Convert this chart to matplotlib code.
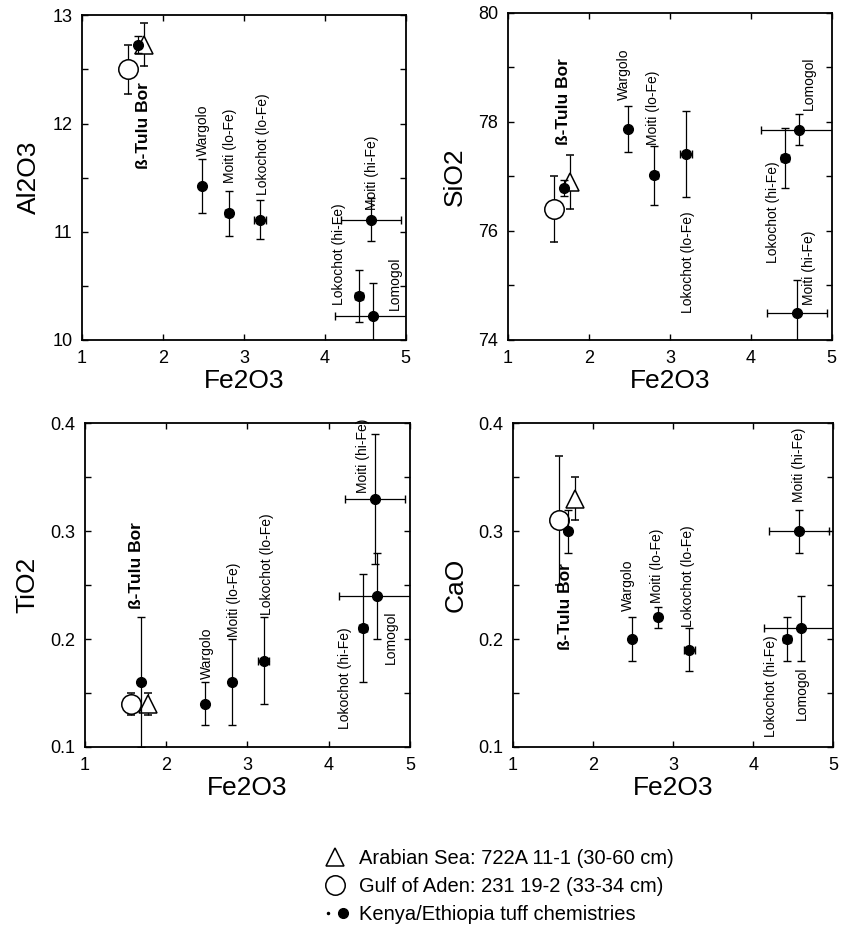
import matplotlib
matplotlib.use("Agg")
import matplotlib.pyplot as plt
from matplotlib.lines import Line2D
from matplotlib.legend_handler import HandlerTuple
from matplotlib.ticker import MultipleLocator

plt.rcParams['font.family'] = ['Liberation Sans', 'DejaVu Sans']

# Kenya/Ethiopia tuffs (Fe2O3 shared across panels)
tuffs = ["Tulu Bor", "Wargolo", "Moiti (lo-Fe)", "Lokochot (lo-Fe)",
         "Lokochot (hi-Fe)", "Moiti (hi-Fe)", "Lomogol"]
tuff_fe = [1.69, 2.48, 2.81, 3.20, 4.42, 4.57, 4.60]
tuff_fe_err = [0.03, 0.0, 0.04, 0.07, 0.05, 0.37, 0.47]

# marine samples
arabian_fe = 1.77
aden_fe = 1.57

# oxide values per panel: tuffs, errors, Arabian Sea, Gulf of Aden
al_tuff = [12.73, 11.42, 11.17, 11.11, 10.41, 11.11, 10.22]
al_err = [0.08, 0.25, 0.21, 0.18, 0.24, 0.20, 0.31]
al_arab, al_arab_err = 12.73, 0.20
al_aden, al_aden_err = 12.50, 0.23

si_tuff = [76.79, 77.87, 77.02, 77.41, 77.34, 74.50, 77.86]
si_err = [0.15, 0.42, 0.54, 0.79, 0.55, 0.60, 0.28]
si_arab, si_arab_err = 76.90, 0.50
si_aden, si_aden_err = 76.40, 0.60

ti_tuff = [0.16, 0.14, 0.16, 0.18, 0.21, 0.33, 0.24]
ti_err = [0.06, 0.02, 0.04, 0.04, 0.05, 0.06, 0.04]
ti_arab, ti_arab_err = 0.14, 0.01
ti_aden, ti_aden_err = 0.14, 0.01

ca_tuff = [0.30, 0.20, 0.22, 0.19, 0.20, 0.30, 0.21]
ca_err = [0.02, 0.02, 0.01, 0.02, 0.02, 0.02, 0.03]
ca_arab, ca_arab_err = 0.33, 0.02
ca_aden, ca_aden_err = 0.31, 0.06

label_text = ["ß-Tulu Bor", "Wargolo", "Moiti (lo-Fe)", "Lokochot (lo-Fe)",
              "Lokochot (hi-Fe)", "Moiti (hi-Fe)", "Lomogol"]

# label anchor positions (x, bottom of rotated text) per panel
al_lab = [(1.76, 11.58), (2.50, 11.70), (2.83, 11.45), (3.23, 11.34),
          (4.17, 10.32), (4.58, 11.20), (4.86, 10.28)]
si_lab = [(1.68, 77.58), (2.43, 78.41), (2.79, 77.58), (3.22, 74.49),
          (4.27, 75.41), (4.72, 74.64), (4.72, 78.22)]
ti_lab = [(1.64, 0.228), (2.50, 0.163), (2.84, 0.202), (3.24, 0.222),
          (4.20, 0.117), (4.42, 0.335), (4.77, 0.177)]
ca_lab = [(1.66, 0.190), (2.44, 0.226), (2.80, 0.233), (3.19, 0.211),
          (4.22, 0.109), (4.57, 0.327), (4.60, 0.125)]

panels = [
    ("Al2O3", al_tuff, al_err, al_arab, al_arab_err, al_aden, al_aden_err,
     al_lab, (10, 13), 1, 0.5, [0.0975, 0.6356, 0.385, 0.348]),
    ("SiO2", si_tuff, si_err, si_arab, si_arab_err, si_aden, si_aden_err,
     si_lab, (74, 80), 2, 1, [0.604, 0.6356, 0.385, 0.3505]),
    ("TiO2", ti_tuff, ti_err, ti_arab, ti_arab_err, ti_aden, ti_aden_err,
     ti_lab, (0.1, 0.4), 0.1, 0.05, [0.101, 0.1994, 0.3865, 0.347]),
    ("CaO", ca_tuff, ca_err, ca_arab, ca_arab_err, ca_aden, ca_aden_err,
     ca_lab, (0.1, 0.4), 0.1, 0.05, [0.610, 0.1994, 0.381, 0.347]),
]

fig = plt.figure(figsize=(8.41, 9.33), dpi=100)

for (name, yv, ye, ya, yae, yd, yde, labs, ylim, major, minor, pos) in panels:
    ax = fig.add_axes(pos)

    # Gulf of Aden (open circle), Arabian Sea (open triangle)
    ax.errorbar(aden_fe, yd, yerr=yde, fmt='o', ms=14, mfc='white', mec='black',
                mew=1.1, ecolor='black', elinewidth=0.9, capsize=3, zorder=3)
    ax.errorbar(arabian_fe, ya, yerr=yae, fmt='^', ms=13, mfc='white', mec='black',
                mew=1.1, ecolor='black', elinewidth=0.9, capsize=3, zorder=4)

    # tuffs
    ax.errorbar(tuff_fe, yv, yerr=ye, xerr=tuff_fe_err, fmt='o', ms=7,
                color='black', ecolor='black', elinewidth=0.9, capsize=3, zorder=5)

    for i, (lx, ly) in enumerate(labs):
        bold = i == 0
        ax.text(lx, ly, label_text[i], rotation=90, ha='center', va='bottom',
                fontsize=12.5 if bold else 10, fontweight='bold' if bold else 'normal',
                clip_on=False)

    ax.set_xlim(1, 5)
    ax.set_ylim(*ylim)
    ax.xaxis.set_major_locator(MultipleLocator(1))
    ax.yaxis.set_major_locator(MultipleLocator(major))
    ax.yaxis.set_minor_locator(MultipleLocator(minor))
    ax.tick_params(which='both', direction='in', top=True, right=True,
                   length=4, width=1, labelsize=13, pad=7)
    if major < 1:
        ax.yaxis.set_major_formatter(plt.FormatStrFormatter('%.1f'))
    for s in ax.spines.values():
        s.set_linewidth(1.3)

    ax.set_xlabel("Fe2O3", fontsize=19, labelpad=2)
    ax.set_ylabel(name, fontsize=19, labelpad=8)

# legend
h_tri = Line2D([], [], marker='^', ls='none', ms=13, mfc='white', mec='black', mew=1.1)
h_circ = Line2D([], [], marker='o', ls='none', ms=14, mfc='white', mec='black', mew=1.1)
h_small = Line2D([], [], marker='.', ls='none', ms=3, color='black')
h_big = Line2D([], [], marker='o', ls='none', ms=7, color='black')
fig.legend([h_tri, h_circ, (h_small, h_big)],
           ["Arabian Sea: 722A 11-1 (30-60 cm)", "Gulf of Aden: 231 19-2 (33-34 cm)",
            "Kenya/Ethiopia tuff chemistries"],
           handler_map={tuple: HandlerTuple(ndivide=None, pad=0.2)},
           loc='center', bbox_to_anchor=(0.592, 0.050), frameon=False,
           fontsize=14.5, handlelength=1.3, handletextpad=0.5, labelspacing=0.45)

fig.savefig("out.png", dpi=100)
